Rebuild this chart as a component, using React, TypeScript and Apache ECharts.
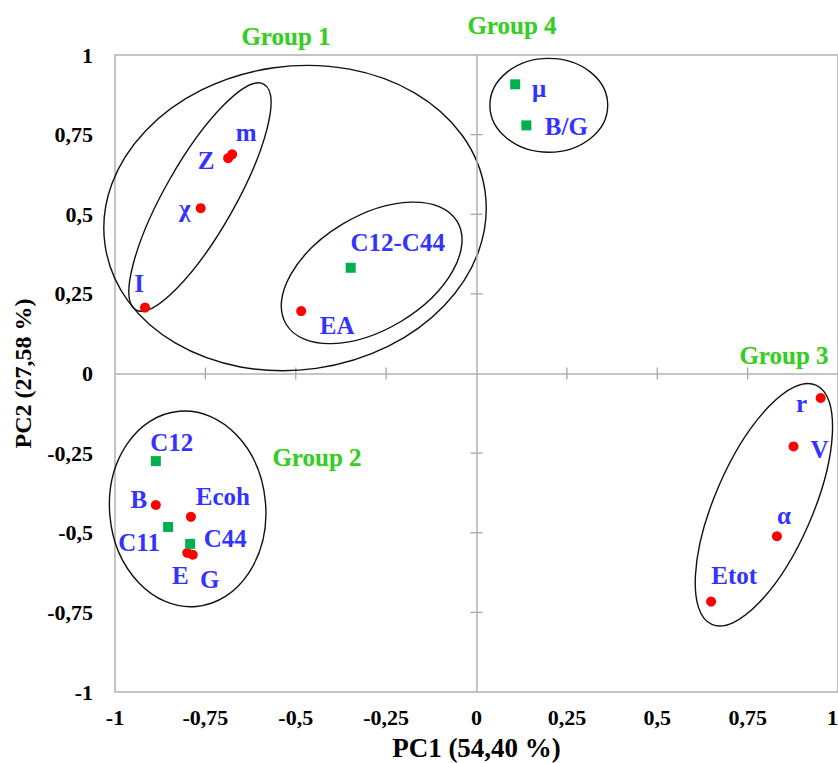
import React, { useEffect, useRef } from 'react';
import * as echarts from 'echarts';

// Red circles (properties)
const redNames = ['m', 'Z', 'χ', 'I', 'EA', 'B', 'Ecoh', 'E', 'G', 'r', 'V', 'α', 'Etot'];
const redX = [-0.676, -0.687, -0.763, -0.917, -0.485, -0.887, -0.79, -0.8, -0.785, 0.952, 0.877, 0.831, 0.649];
const redY = [0.688, 0.676, 0.519, 0.207, 0.196, -0.413, -0.45, -0.563, -0.569, -0.077, -0.229, -0.511, -0.716];

// Green squares (elastic constants)
const greenNames = ['μ', 'B/G', 'C12-C44', 'C12', 'C11', 'C44'];
const greenX = [0.107, 0.138, -0.348, -0.887, -0.853, -0.792];
const greenY = [0.908, 0.779, 0.332, -0.275, -0.482, -0.535];

// Grouping ellipses: centre (data), semi-axes (x-units), angle (deg)
const ellipseCx = [-0.502, -0.765, -0.29, 0.2, -0.799, 0.795];
const ellipseCy = [0.488, 0.554, 0.316, 0.842, -0.425, -0.412];
const ellipseA = [0.531, 0.359, 0.276, 0.163, 0.271, 0.361];
const ellipseB = [0.42, 0.097, 0.157, 0.13, 0.216, 0.135];
const ellipseAngle = [8, 60.4, 31, 0, 95, 66.5];

const tickValues = [-1, -0.75, -0.5, -0.25, 0, 0.25, 0.5, 0.75, 1];

const groupLabels = ['Group 1', 'Group 4', 'Group 3', 'Group 2'];

// label placement (pixel offsets from the marker)
const labelOffset: Record<string, [number, number]> = {
  m: [14, -22], Z: [-22, 2], 'χ': [-16, 0], I: [-6, -24], EA: [36, 14],
  B: [-17, -6], Ecoh: [32, -20], E: [-7, 23], G: [17, 25],
  r: [-19, 5], V: [26, 3], 'α': [7, -21], Etot: [23, -26],
  'μ': [24, 4], 'B/G': [40, 1], 'C12-C44': [47, -25], C12: [16, -19], C11: [-29, 15], C44: [35, -5],
};
const groupPos: [number, number][] = [[286, 36], [512, 25], [784, 355], [317, 457]];

const FONT = '"Liberation Serif", "Times New Roman", serif';

export default function App() {
  const ref = useRef<HTMLDivElement>(null);
  useEffect(() => {
    const chart = echarts.init(ref.current!, null, { renderer: 'svg' });
    const mkLabel = (name: string) => ({
      show: true,
      position: 'inside',
      offset: labelOffset[name] || [0, 0],
      formatter: name,
      color: '#3333ff',
      fontFamily: FONT,
      fontWeight: 'bold',
      fontSize: 25,
    });
    const fmt = (v: number) => String(v).replace('.', ',');
    const option: any = {
      animation: false,
      backgroundColor: '#ffffff',
      grid: {
        left: 115, right: 0, top: 55, bottom: 71,
        outerBoundsMode: 'none', containLabel: false,
        show: true, borderColor: '#c4c4c4', borderWidth: 2, backgroundColor: 'transparent',
      },
      xAxis: {
        type: 'value', min: -1, max: 1, interval: 0.25,
        axisLine: { show: false, onZero: false }, axisTick: { show: false }, splitLine: { show: false },
        axisLabel: {
          formatter: fmt, color: '#000', fontFamily: FONT, fontWeight: 'bold', fontSize: 22, margin: 14,
          alignMaxLabel: 'right',
        },
        name: 'PC1 (54,40 %)', nameLocation: 'middle', nameGap: 42,
        nameTextStyle: { color: '#000', fontFamily: FONT, fontWeight: 'bold', fontSize: 27, lineHeight: 28 },
      },
      yAxis: {
        type: 'value', min: -1, max: 1, interval: 0.25,
        axisLine: { show: false, onZero: false }, axisTick: { show: false }, splitLine: { show: false },
        axisLabel: { formatter: fmt, color: '#000', fontFamily: FONT, fontWeight: 'bold', fontSize: 22, margin: 22 },
        name: 'PC2 (27,58 %)', nameLocation: 'middle', nameGap: 80,
        nameTextStyle: { color: '#000', fontFamily: FONT, fontWeight: 'bold', fontSize: 24 },
      },
      graphic: groupLabels.map((t, i) => ({
        type: 'text', x: groupPos[i][0], y: groupPos[i][1], z: 100,
        style: {
          text: t, fill: '#33cc33', stroke: '#e0f070', lineWidth: 0.6,
          font: `bold 25px ${FONT}`, textAlign: 'center', textVerticalAlign: 'middle',
        },
      })),
      series: [
        {
          type: 'custom', name: 'axes', silent: true, z: 1,
          data: tickValues.filter((v) => v !== 0 && Math.abs(v) !== 1).map((v) => [v, 0]),
          renderItem: (_p: any, api: any) => {
            const v = api.value(0);
            const px = api.coord([v, 0]);
            const py = api.coord([0, v]);
            const st = { stroke: '#a6a6a6', lineWidth: 1.3 };
            return {
              type: 'group',
              children: [
                { type: 'line', shape: { x1: px[0], y1: px[1] - 6, x2: px[0], y2: px[1] + 6 }, style: st },
                { type: 'line', shape: { x1: py[0] - 6, y1: py[1], x2: py[0] + 6, y2: py[1] }, style: st },
              ],
            };
          },
          markLine: {
            silent: true, symbol: 'none', label: { show: false },
            lineStyle: { color: '#b0b0b0', width: 1.5, type: 'solid' },
            data: [{ xAxis: 0 }, { yAxis: 0 }],
          },
        },
        {
          type: 'custom', name: 'groups', silent: true, z: 2,
          data: ellipseCx.map((cx, i) => [cx, ellipseCy[i], ellipseA[i], ellipseB[i], ellipseAngle[i]]),
          renderItem: (_p: any, api: any) => {
            const c = api.coord([api.value(0), api.value(1)]);
            const unit = api.size([1, 1]);
            return {
              type: 'ellipse',
              x: c[0], y: c[1],
              rotation: (api.value(4) * Math.PI) / 180,
              shape: { cx: 0, cy: 0, rx: api.value(2) * unit[0], ry: api.value(3) * unit[0] },
              style: { fill: 'none', stroke: '#111', lineWidth: 1.4 },
            };
          },
        },
        {
          type: 'scatter', name: 'Properties', z: 5,
          symbol: 'circle', symbolSize: 10,
          itemStyle: { color: '#ff0000', opacity: 1 },
          data: redNames.map((n, i) => ({ name: n, value: [redX[i], redY[i]], label: mkLabel(n) })),
        },
        {
          type: 'scatter', name: 'Elastic', z: 5,
          symbol: 'rect', symbolSize: 10,
          itemStyle: { color: '#00b050', opacity: 1 },
          data: greenNames.map((n, i) => ({ name: n, value: [greenX[i], greenY[i]], label: mkLabel(n) })),
        },
      ],
    };
    chart.setOption(option);
    return () => chart.dispose();
  }, []);
  return (
    <div
      ref={ref}
      style={{ position: 'absolute', left: 0, top: 0, width: 838, height: 763, background: '#fff' }}
    />
  );
}
